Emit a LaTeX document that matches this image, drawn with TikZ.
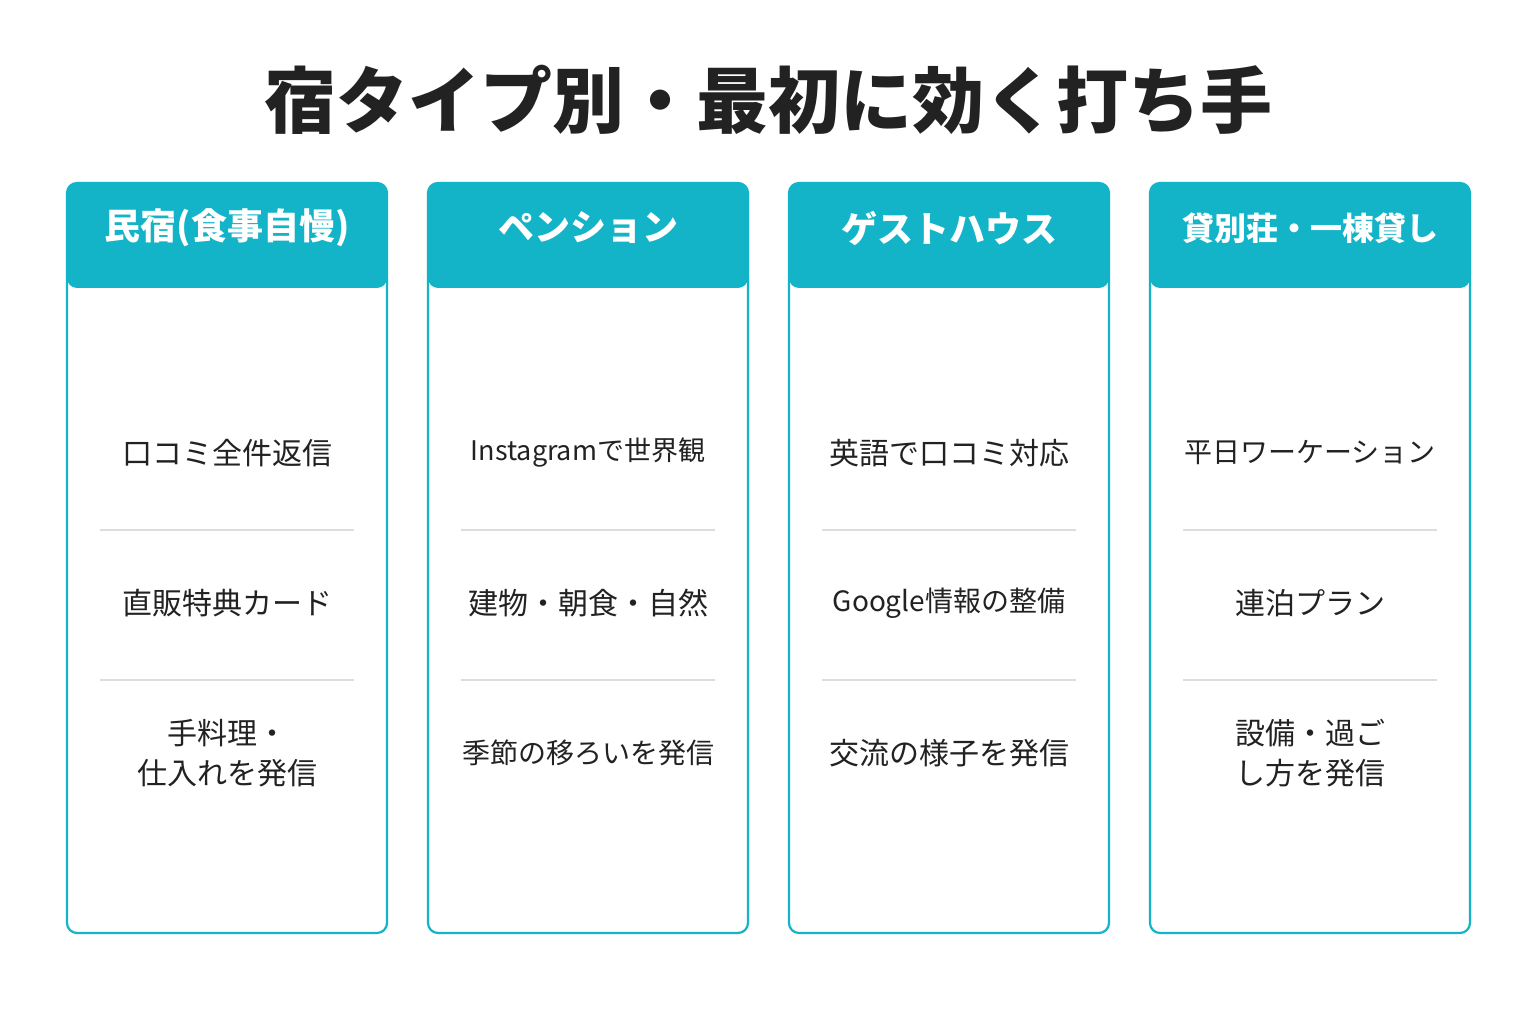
\documentclass[tikz,border=0pt]{standalone}
\usepackage{fontspec}
\setmainfont{Noto Sans CJK JP}
\newfontfamily\jpb{Noto Sans CJK JP}[FakeBold=0,BoldFont={* Bold}]
\definecolor{teal}{HTML}{14B4C8}
\definecolor{divc}{HTML}{DDDDDD}
\definecolor{txt}{HTML}{222222}
\begin{document}
\begin{tikzpicture}[x=1pt,y=-1pt,
  card/.style={draw=teal,line width=2.2pt,rounded corners=10pt},
  head/.style={fill=teal,rounded corners=10pt},
  htxt/.style={text=white,font=\fontsize{36}{40}\selectfont\bfseries},
  item/.style={text=txt,font=\fontsize{30}{40}\selectfont,align=center},
  divl/.style={draw=divc,line width=1.2pt}]
\useasboundingbox (0,0) rectangle (1536,1024);
\fill[white] (0,0) rectangle (1536,1024);
\node[text=txt,font=\fontsize{72}{80}\selectfont\bfseries] (title) at (768,100) {宿タイプ別・最初に効く打ち手};
\foreach \x/\h/\a/\b/\c/\n in {
 67/{民宿(食事自慢)}/{口コミ全件返信}/{直販特典カード}/{手料理・\\仕入れを発信}/a,
 428/{ペンション}/{\fontsize{27}{30}\selectfont Instagramで世界観}/{建物・朝食・自然}/{\fontsize{28}{30}\selectfont 季節の移ろいを発信}/b,
 789/{ゲストハウス}/{英語で口コミ対応}/{\fontsize{28}{30}\selectfont Google情報の整備}/{交流の様子を発信}/c,
 1150/{\fontsize{32}{36}\selectfont 貸別荘・一棟貸し}/{\fontsize{28}{30}\selectfont 平日ワーケーション}/{連泊プラン}/{設備・過ご\\し方を発信}/d}{
  \draw[card] (\x,183) rectangle ++(320,750);
  \fill[head] (\x,183) rectangle ++(320,105);
  \node[htxt] (h\n) at (\x+160,228) {\h};
  \draw[divl] (\x+33,530) -- (\x+287,530);
  \draw[divl] (\x+33,680) -- (\x+287,680);
  \node[item] (i1\n) at (\x+160,453) {\a};
  \node[item] (i2\n) at (\x+160,603) {\b};
  \node[item] (i3\n) at (\x+160,753) {\c};
}
\end{tikzpicture}
\end{document}
